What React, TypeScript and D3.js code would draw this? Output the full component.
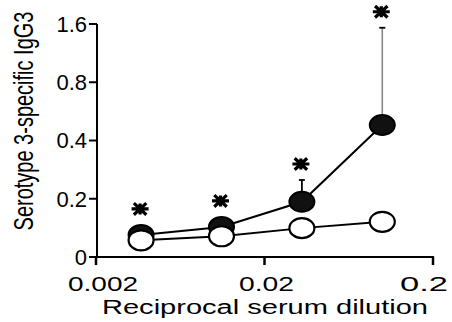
import React from "react";
import * as d3 from "d3";

const dilutions = [1 / 270, 1 / 90, 1 / 30, 1 / 10];
const immuneMeans = [0.13, 0.143, 0.193, 0.481];
const immuneErrUpper = [0.13, 0.143, 0.25, 1.53];
const controlMeans = [0.122, 0.128, 0.141, 0.152];
const significant = [true, true, true, true];
const xTicks = [0.002, 0.02, 0.2];
const xTickLabels = ["0.002", "0.02", "0.2"];
const yTicks = [0.1, 0.2, 0.4, 0.8, 1.6];
const yTickLabels = ["0", "0.2", "0.4", "0.8", "1.6"];

const W = 452;
const H = 322;
const FONT = "'Liberation Sans', Arial, sans-serif";

export default function App() {
  const x = d3.scaleLog().domain([0.002, 0.2]).range([96, 433]);
  const y = d3.scaleLog().base(2).domain([0.1, 1.6]).range([257, 24]);
  const rx = 12.5;
  const ry = 10;

  const line = d3
    .line<number>()
    .x((_, i) => x(dilutions[i]))
    .y((d) => y(d));

  const xLabelOffsets = [7, 2, -9];
  const xLabelWidths = [70, 55, 48];

  const asterisk = (cx: number, cy: number, key: number) => {
    const a = 8.5;
    const dx = a * Math.cos(Math.PI / 4.2);
    const dy = a * Math.sin(Math.PI / 4.2);
    const d = `M${cx - a},${cy}L${cx + a},${cy}M${cx - dx},${cy - dy}L${cx + dx},${cy + dy}M${cx - dx},${cy + dy}L${cx + dx},${cy - dy}M${cx},${cy - 5.5}L${cx},${cy + 5.5}`;
    return <path key={key} d={d} stroke="#000" strokeWidth={3.2} fill="none" />;
  };

  return (
    <svg
      width={W}
      height={H}
      style={{ position: "absolute", left: 0, top: 0, background: "#fff" }}
      fontFamily={FONT}
    >
      {/* axes */}
      <line x1={97} x2={97} y1={y(1.6)} y2={257} stroke="#000" strokeWidth={2} />
      <line x1={96} x2={434} y1={257} y2={257} stroke="#000" strokeWidth={2} />
      {yTicks.map((t, i) => (
        <g key={"yt" + i}>
          <line x1={89} x2={97} y1={y(t)} y2={y(t)} stroke="#000" strokeWidth={2} />
          <text x={87} y={y(t)} dy="0.36em" textAnchor="end" fontSize={22}>
            {yTickLabels[i]}
          </text>
        </g>
      ))}
      {xTicks.map((t, i) => (
        <g key={"xt" + i}>
          <line x1={x(t)} x2={x(t)} y1={257} y2={265} stroke="#000" strokeWidth={2.5} />
          <text
            x={x(t) + xLabelOffsets[i]}
            y={291}
            textAnchor="middle"
            fontSize={21}
            textLength={xLabelWidths[i]}
            lengthAdjust="spacingAndGlyphs"
          >
            {xTickLabels[i]}
          </text>
        </g>
      ))}
      <text
        x={265}
        y={314}
        textAnchor="middle"
        fontSize={20}
        textLength={326}
        lengthAdjust="spacingAndGlyphs"
      >
        Reciprocal serum dilution
      </text>
      <text
        transform="translate(33,121) scale(1.35,1) rotate(-90)"
        textAnchor="middle"
        fontSize={20}
      >
        Serotype 3-specific IgG3
      </text>

      {/* immune series */}
      <path d={line(immuneMeans) || ""} fill="none" stroke="#000" strokeWidth={2} />
      {immuneMeans.map((m, i) =>
        immuneErrUpper[i] > m ? (
          <g key={"e" + i}>
            <line
              x1={x(dilutions[i])}
              x2={x(dilutions[i])}
              y1={y(m)}
              y2={y(immuneErrUpper[i])}
              stroke={i === 3 ? "#888" : "#000"}
              strokeWidth={i === 3 ? 1.6 : 1.8}
            />
            <line
              x1={x(dilutions[i]) - 3}
              x2={x(dilutions[i]) + 3}
              y1={y(immuneErrUpper[i])}
              y2={y(immuneErrUpper[i])}
              stroke="#000"
              strokeWidth={1.8}
            />
          </g>
        ) : null
      )}
      {immuneMeans.map((m, i) => (
        <ellipse
          key={"f" + i}
          cx={x(dilutions[i])}
          cy={y(m)}
          rx={rx}
          ry={ry}
          fill="#111"
          stroke="#000"
          strokeWidth={2}
        />
      ))}

      {/* control series */}
      <path d={line(controlMeans) || ""} fill="none" stroke="#000" strokeWidth={2} />
      {controlMeans.map((m, i) => (
        <ellipse
          key={"o" + i}
          cx={x(dilutions[i])}
          cy={y(m)}
          rx={rx}
          ry={ry}
          fill="#fff"
          stroke="#000"
          strokeWidth={2.2}
        />
      ))}

      {/* significance markers */}
      {significant.map((s, i) => {
        if (!s) return null;
        const top = Math.min(y(immuneErrUpper[i]), y(immuneMeans[i]) - ry);
        return asterisk(x(dilutions[i]) - 1, top - 16, i);
      })}
    </svg>
  );
}
